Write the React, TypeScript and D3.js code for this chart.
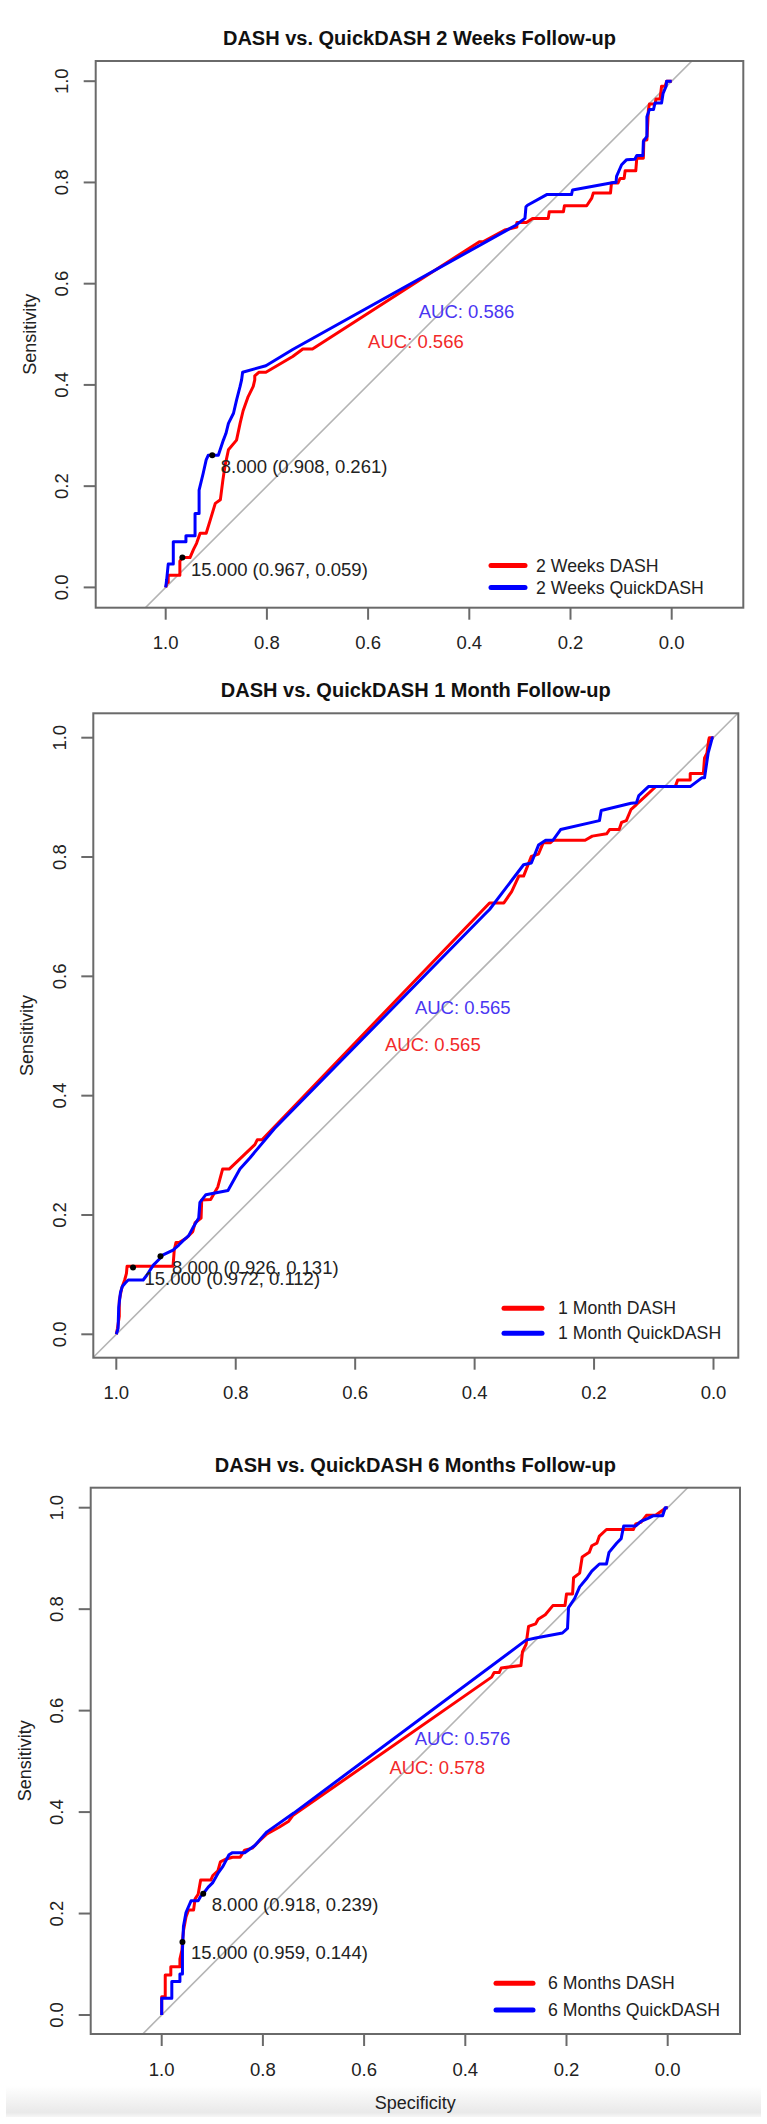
import React from "react";
import * as d3 from "d3";

// ---------- data (specificity, sensitivity) ----------
const weeks2Dash: [number, number][] = [
  [1, 0], [0.998, 0.008], [0.995, 0.01], [0.995, 0.024], [0.972, 0.024], [0.972, 0.052], [0.967, 0.059],
  [0.952, 0.059], [0.945, 0.075], [0.939, 0.087], [0.932, 0.107], [0.92, 0.107], [0.912, 0.133],
  [0.902, 0.166], [0.892, 0.173], [0.887, 0.212], [0.883, 0.239], [0.876, 0.272], [0.86, 0.291],
  [0.853, 0.324], [0.847, 0.349], [0.837, 0.377], [0.827, 0.397], [0.824, 0.41], [0.824, 0.418],
  [0.816, 0.425], [0.802, 0.425], [0.749, 0.456], [0.729, 0.471], [0.71, 0.471],
  [0.38, 0.683], [0.372, 0.683], [0.33, 0.706], [0.306, 0.712], [0.306, 0.721], [0.287, 0.721],
  [0.275, 0.729], [0.244, 0.729], [0.242, 0.742], [0.214, 0.742], [0.212, 0.754], [0.168, 0.754],
  [0.158, 0.769], [0.155, 0.779], [0.121, 0.779], [0.119, 0.799], [0.106, 0.799], [0.102, 0.808],
  [0.094, 0.808], [0.092, 0.823], [0.071, 0.823], [0.069, 0.848], [0.056, 0.848], [0.055, 0.884],
  [0.049, 0.884], [0.046, 0.944], [0.044, 0.955], [0.033, 0.955], [0.031, 0.965], [0.023, 0.965],
  [0.02, 0.99], [0.013, 0.99], [0.01, 1.0], [0, 1],
];
const weeks2Quick: [number, number][] = [
  [1, 0], [0.998, 0.016], [0.995, 0.046], [0.985, 0.046], [0.985, 0.09], [0.96, 0.09], [0.96, 0.102],
  [0.942, 0.102], [0.942, 0.146], [0.934, 0.146], [0.934, 0.192], [0.926, 0.225], [0.92, 0.252],
  [0.916, 0.261], [0.896, 0.261], [0.886, 0.291], [0.881, 0.304], [0.876, 0.324], [0.866, 0.344],
  [0.86, 0.37], [0.853, 0.397], [0.85, 0.41], [0.848, 0.425], [0.802, 0.438], [0.749, 0.47],
  [0.309, 0.715], [0.29, 0.729], [0.288, 0.752], [0.285, 0.755], [0.247, 0.776], [0.198, 0.776],
  [0.196, 0.785], [0.115, 0.8], [0.11, 0.8], [0.109, 0.812], [0.099, 0.835], [0.089, 0.845],
  [0.073, 0.846], [0.069, 0.853], [0.057, 0.853], [0.056, 0.881], [0.049, 0.891], [0.049, 0.93],
  [0.044, 0.944], [0.036, 0.944], [0.033, 0.957], [0.02, 0.957], [0.017, 0.976], [0.011, 0.99],
  [0.01, 1.0], [0, 1],
];
const month1Dash: [number, number][] = [
  [1, 0], [0.998, 0.01], [0.995, 0.03], [0.995, 0.057], [0.991, 0.077], [0.986, 0.091], [0.983, 0.102],
  [0.982, 0.114], [0.905, 0.114], [0.903, 0.141], [0.9, 0.154], [0.895, 0.154], [0.883, 0.161],
  [0.872, 0.172], [0.868, 0.187], [0.858, 0.195], [0.857, 0.225], [0.842, 0.226], [0.83, 0.247],
  [0.822, 0.277], [0.811, 0.277], [0.768, 0.318], [0.764, 0.326], [0.756, 0.326], [0.375, 0.723],
  [0.351, 0.723], [0.338, 0.742], [0.326, 0.768], [0.318, 0.768], [0.305, 0.801], [0.293, 0.805],
  [0.285, 0.824], [0.273, 0.824], [0.269, 0.828], [0.215, 0.828], [0.203, 0.835], [0.179, 0.839],
  [0.174, 0.846], [0.158, 0.846], [0.154, 0.858], [0.146, 0.861], [0.138, 0.88], [0.129, 0.888],
  [0.113, 0.903], [0.101, 0.914], [0.097, 0.918], [0.064, 0.918], [0.06, 0.929], [0.039, 0.929],
  [0.039, 0.94], [0.017, 0.94], [0.015, 0.966], [0.011, 0.974], [0.008, 0.996], [0.007, 1.0], [0, 1],
];
const month1Quick: [number, number][] = [
  [1, 0], [0.997, 0.01], [0.996, 0.045], [0.993, 0.07], [0.99, 0.08], [0.985, 0.086], [0.98, 0.091],
  [0.955, 0.091], [0.949, 0.099], [0.938, 0.116], [0.927, 0.127], [0.926, 0.131], [0.905, 0.141],
  [0.895, 0.15], [0.885, 0.16], [0.879, 0.165], [0.871, 0.18], [0.862, 0.195], [0.86, 0.221],
  [0.85, 0.234], [0.813, 0.241], [0.793, 0.277], [0.776, 0.296], [0.735, 0.345], [0.383, 0.704],
  [0.375, 0.712], [0.318, 0.787], [0.305, 0.79], [0.293, 0.82], [0.281, 0.828], [0.269, 0.828],
  [0.256, 0.846], [0.191, 0.861], [0.188, 0.878], [0.138, 0.89], [0.129, 0.891], [0.125, 0.903],
  [0.109, 0.918], [0.039, 0.918], [0.019, 0.933], [0.015, 0.933], [0.009, 0.974], [0.005, 0.989],
  [0.002, 1.0], [0, 1],
];
const months6Dash: [number, number][] = [
  [1, 0], [1, 0.036], [0.993, 0.036], [0.993, 0.079], [0.982, 0.079], [0.982, 0.095], [0.964, 0.095],
  [0.964, 0.11], [0.96, 0.128], [0.959, 0.144], [0.957, 0.166], [0.952, 0.193], [0.947, 0.207],
  [0.937, 0.207], [0.934, 0.229], [0.928, 0.238], [0.923, 0.266], [0.903, 0.266], [0.899, 0.275],
  [0.889, 0.284], [0.884, 0.302], [0.874, 0.307], [0.86, 0.311], [0.845, 0.311], [0.836, 0.325],
  [0.821, 0.329], [0.807, 0.343], [0.792, 0.357], [0.768, 0.37], [0.749, 0.382], [0.741, 0.393],
  [0.348, 0.666], [0.343, 0.675], [0.333, 0.675], [0.329, 0.684], [0.29, 0.689], [0.287, 0.716],
  [0.28, 0.73], [0.275, 0.766], [0.261, 0.771], [0.256, 0.78], [0.242, 0.789], [0.227, 0.807],
  [0.203, 0.807], [0.2, 0.83], [0.188, 0.83], [0.186, 0.862], [0.174, 0.871], [0.169, 0.903],
  [0.155, 0.912], [0.15, 0.925], [0.14, 0.93], [0.135, 0.944], [0.121, 0.957], [0.068, 0.957],
  [0.063, 0.968], [0.053, 0.971], [0.042, 0.985], [0.024, 0.985], [0.003, 1.0], [0, 1],
];
const months6Quick: [number, number][] = [
  [1, 0], [1, 0.033], [0.98, 0.033], [0.98, 0.066], [0.964, 0.066], [0.964, 0.081], [0.959, 0.081],
  [0.959, 0.128], [0.957, 0.175], [0.952, 0.202], [0.942, 0.225], [0.928, 0.225], [0.923, 0.234],
  [0.918, 0.239], [0.908, 0.252], [0.899, 0.261], [0.889, 0.279], [0.879, 0.293], [0.867, 0.316],
  [0.86, 0.32], [0.836, 0.32], [0.816, 0.334], [0.792, 0.361], [0.739, 0.398], [0.28, 0.739],
  [0.261, 0.743], [0.208, 0.753], [0.198, 0.762], [0.196, 0.803], [0.184, 0.821], [0.174, 0.844],
  [0.159, 0.862], [0.15, 0.875], [0.135, 0.889], [0.121, 0.889], [0.116, 0.912], [0.101, 0.93],
  [0.092, 0.939], [0.087, 0.964], [0.063, 0.964], [0.053, 0.973], [0.039, 0.979], [0.029, 0.984],
  [0.01, 0.984], [0.005, 1.0], [0, 1],
];

const tickValues = [0, 0.2, 0.4, 0.6, 0.8, 1.0];
const tickLabels = ["0.0", "0.2", "0.4", "0.6", "0.8", "1.0"];
const titles = [
  "DASH vs. QuickDASH 2 Weeks Follow-up",
  "DASH vs. QuickDASH 1 Month Follow-up",
  "DASH vs. QuickDASH 6 Months Follow-up",
];
const legendDash = ["2 Weeks DASH", "1 Month DASH", "6 Months DASH"];
const legendQuick = ["2 Weeks QuickDASH", "1 Month QuickDASH", "6 Months QuickDASH"];
const aucDash = ["0.566", "0.565", "0.578"];
const aucQuick = ["0.586", "0.565", "0.576"];
// [threshold, specificity, sensitivity]
const thresholds8: [string, number, number][] = [["8.000", 0.908, 0.261], ["8.000", 0.926, 0.131], ["8.000", 0.918, 0.239]];
const thresholds15: [string, number, number][] = [["15.000", 0.967, 0.059], ["15.000", 0.972, 0.112], ["15.000", 0.959, 0.144]];

// ---------- layout ----------
const FONT = '"Liberation Sans", Arial, Helvetica, sans-serif';
const RED = "#ff0000";
const BLUE = "#0000ff";

type Layout = {
  l: number; r: number; t: number; b: number;
  x1: number; x0: number; y0: number; y1: number;
  legX0: number; legX1: number; legText: number; legY: [number, number];
  aucDashPos: [number, number]; aucQuickPos: [number, number];
  thrDx: number; thrDy: number;
};

const layouts: Layout[] = [
  {
    l: 95.7, r: 743.3, t: 61, b: 607.7, x1: 165.7, x0: 671.7, y0: 587.4, y1: 81.2,
    legX0: 491, legX1: 525, legText: 536, legY: [565.5, 587.5],
    aucDashPos: [0.6, 0.486], aucQuickPos: [0.5, 0.546], thrDx: 8.5, thrDy: 11.5,
  },
  {
    l: 93.3, r: 738.3, t: 713.3, b: 1357.7, x1: 116.3, x0: 713.5, y0: 1334.3, y1: 737.7,
    legX0: 504, legX1: 542, legText: 558, legY: [1308.3, 1333.3],
    aucDashPos: [0.55, 0.486], aucQuickPos: [0.5, 0.548], thrDx: 11.5, thrDy: 11.5,
  },
  {
    l: 90.7, r: 740, t: 1487.7, b: 2034, x1: 161.7, x0: 667.7, y0: 2015, y1: 1507.7,
    legX0: 496, legX1: 533, legText: 548, legY: [1983.3, 2010],
    aucDashPos: [0.55, 0.488], aucQuickPos: [0.5, 0.546], thrDx: 8.5, thrDy: 10.5,
  },
];

const dashSeries = [weeks2Dash, month1Dash, months6Dash];
const quickSeries = [weeks2Quick, month1Quick, months6Quick];

function Panel({ idx }: { idx: number }) {
  const L = layouts[idx];
  const x = d3.scaleLinear().domain([1, 0]).range([L.x1, L.x0]);
  const y = d3.scaleLinear().domain([0, 1]).range([L.y0, L.y1]);
  const line = d3.line<[number, number]>().x((d) => x(d[0])).y((d) => y(d[1]));
  const clipId = `clip${idx}`;
  const cx = (L.l + L.r) / 2;
  const cy = (L.t + L.b) / 2;
  const thr = [thresholds8[idx], thresholds15[idx]];
  return (
    <g>
      <defs>
        <clipPath id={clipId}>
          <rect x={L.l} y={L.t} width={L.r - L.l} height={L.b - L.t} />
        </clipPath>
      </defs>
      <text x={cx} y={L.t - 23} textAnchor="middle" dominantBaseline="central"
        fontFamily={FONT} fontWeight="bold" fontSize={20} fill="#111">{titles[idx]}</text>
      {/* diagonal and curves */}
      <g clipPath={`url(#${clipId})`}>
        <path d={line([[1.3, -0.3], [-0.3, 1.3]]) || ""} stroke="#b4b4b4" strokeWidth={1.6} fill="none" />
        <path d={line(dashSeries[idx]) || ""} stroke={RED} strokeWidth={3} fill="none" strokeLinejoin="round" />
        <path d={line(quickSeries[idx]) || ""} stroke={BLUE} strokeWidth={3} fill="none" strokeLinejoin="round" />
      </g>
      {/* box */}
      <rect x={L.l} y={L.t} width={L.r - L.l} height={L.b - L.t} fill="none" stroke="#6a6a6a" strokeWidth={2} />
      {/* x axis */}
      {tickValues.map((v, i) => (
        <g key={`x${i}`}>
          <line x1={x(v)} x2={x(v)} y1={L.b} y2={L.b + 12} stroke="#6a6a6a" strokeWidth={2} />
          <text x={x(v)} y={L.b + 35} textAnchor="middle" dominantBaseline="central"
            fontFamily={FONT} fontSize={18.5} fill="#222">{tickLabels[i]}</text>
        </g>
      ))}
      {/* y axis */}
      {tickValues.map((v, i) => (
        <g key={`y${i}`}>
          <line x1={L.l - 12} x2={L.l} y1={y(v)} y2={y(v)} stroke="#6a6a6a" strokeWidth={2} />
          <text transform={`translate(${L.l - 34},${y(v)}) rotate(-90)`} textAnchor="middle" dominantBaseline="central"
            fontFamily={FONT} fontSize={18.5} fill="#222">{tickLabels[i]}</text>
        </g>
      ))}
      <text transform={`translate(${L.l - 66},${cy}) rotate(-90)`} textAnchor="middle" dominantBaseline="central"
        fontFamily={FONT} fontSize={18} fill="#222">Sensitivity</text>
      {idx === 2 && (
        <text x={cx} y={L.b + 69} textAnchor="middle" dominantBaseline="central"
          fontFamily={FONT} fontSize={18} fill="#222">Specificity</text>
      )}
      {/* AUC */}
      <text x={x(L.aucQuickPos[0])} y={y(L.aucQuickPos[1])} dominantBaseline="central"
        fontFamily={FONT} fontSize={18.5} fill="#4a36f2">{`AUC: ${aucQuick[idx]}`}</text>
      <text x={x(L.aucDashPos[0])} y={y(L.aucDashPos[1])} dominantBaseline="central"
        fontFamily={FONT} fontSize={18.5} fill="#f22a2a">{`AUC: ${aucDash[idx]}`}</text>
      {/* thresholds */}
      {thr.map((t, i) => (
        <g key={`t${i}`}>
          <circle cx={x(t[1])} cy={y(t[2])} r={3} fill="#000" />
          <text x={x(t[1]) + L.thrDx} y={y(t[2]) + L.thrDy} dominantBaseline="central"
            fontFamily={FONT} fontSize={18.5} fill="#222">
            {`${t[0]} (${t[1].toFixed(3)}, ${t[2].toFixed(3)})`}
          </text>
        </g>
      ))}
      {/* legend */}
      <line x1={L.legX0} x2={L.legX1} y1={L.legY[0]} y2={L.legY[0]} stroke={RED} strokeWidth={5} strokeLinecap="round" />
      <text x={L.legText} y={L.legY[0]} dominantBaseline="central" fontFamily={FONT} fontSize={17.7} fill="#222">{legendDash[idx]}</text>
      <line x1={L.legX0} x2={L.legX1} y1={L.legY[1]} y2={L.legY[1]} stroke={BLUE} strokeWidth={5} strokeLinecap="round" />
      <text x={L.legText} y={L.legY[1]} dominantBaseline="central" fontFamily={FONT} fontSize={17.7} fill="#222">{legendQuick[idx]}</text>
    </g>
  );
}

export default function App() {
  return (
    <svg width={767} height={2124} style={{ position: "absolute", left: 0, top: 0, background: "#fff" }}>
      <defs>
        <linearGradient id="bottomShade" x1="0" y1="0" x2="0" y2="1">
          <stop offset="0" stopColor="#ffffff" />
          <stop offset="0.85" stopColor="#e9e9e9" />
          <stop offset="1" stopColor="#f6f6f6" />
        </linearGradient>
      </defs>
      <rect x={0} y={0} width={767} height={2124} fill="#fff" />
      <rect x={6} y={2086} width={755} height={31} fill="url(#bottomShade)" />
      {[0, 1, 2].map((i) => (
        <Panel key={i} idx={i} />
      ))}
    </svg>
  );
}
